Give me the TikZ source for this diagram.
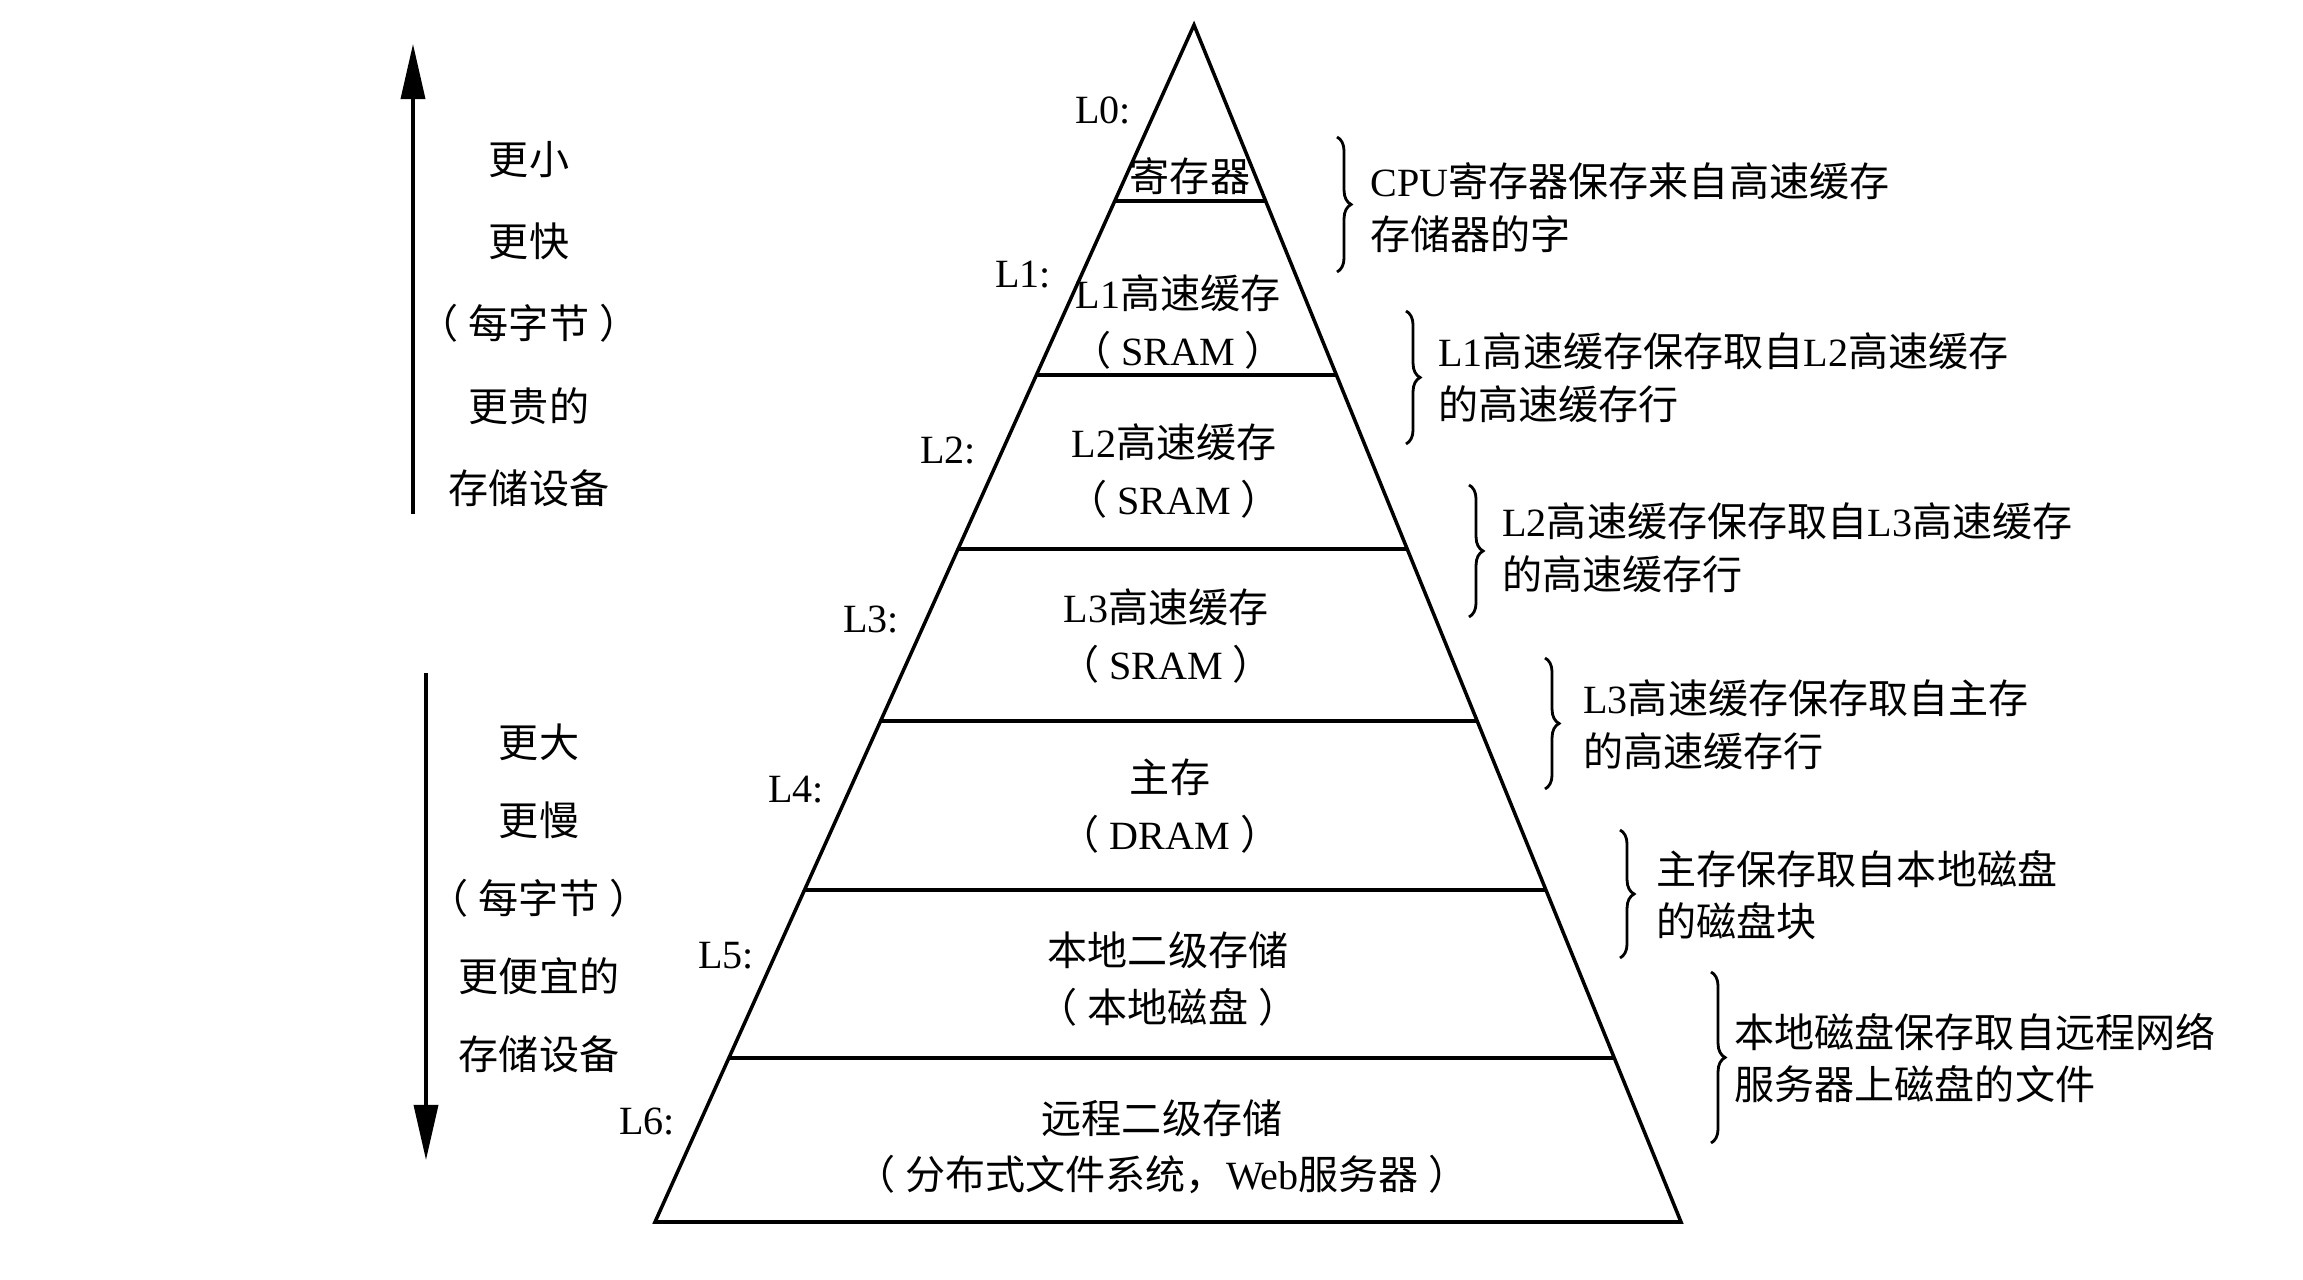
\documentclass[tikz,border=0pt]{standalone}
\usepackage{fontspec}
\setmainfont{Liberation Serif}
\newfontfamily\cjk{Noto Sans CJK SC}
\newcommand{\zh}[1]{{\cjk #1}}
\newcommand{\lp}{\zh{（}\hspace{0.25em}}
\newcommand{\rp}{\hspace{0.25em}\zh{）}}
\usetikzlibrary{arrows.meta,decorations.pathreplacing,calc,positioning}

\begin{document}
\begin{tikzpicture}[x=0.01cm, y=-0.01cm]
    \tikzset{edge/.style={line width=1pt, line join=miter}}
    \tikzset{lvl/.style={align=center, font=\fontsize{11.4}{16}\selectfont}}
    \tikzset{tag/.style={anchor=east, inner sep=1pt, font=\fontsize{11.4}{13}\selectfont}}
    \tikzset{note/.style={anchor=west, align=left, font=\fontsize{11.4}{15}\selectfont}}
    \tikzset{curly/.style={decorate, decoration={brace, amplitude=4pt}, line width=0.8pt}}
    \tikzset{bigarrow/.style={line width=1pt, -{Triangle[length=5.5mm, width=2.4mm]}}}
    \useasboundingbox (0,0) rectangle (2303,1280);

    % Pyramid
    \coordinate (apex) at (1194,25);
    \coordinate (bl) at (655,1222);
    \coordinate (br) at (1681,1222);
    \draw[edge] (bl) -- (apex) -- (br) -- cycle;
    \foreach \t [count=\i] in {0.1470,0.2924,0.4378,0.5815,0.7226,0.8630}
        \draw[edge] ($(apex)!\t!(bl)$) coordinate (sl\i) -- ($(apex)!\t!(br)$) coordinate (sr\i);

    % Levels
    \node[lvl] (reg) at (1190,176) {\zh{寄存器}};
    \node[lvl] (l1c) at (1178,322) {L1\zh{高速缓存}\\\lp SRAM\rp};
    \node[lvl] (l2c) at (1174,471) {L2\zh{高速缓存}\\\lp SRAM\rp};
    \node[lvl] (l3c) at (1166,636) {L3\zh{高速缓存}\\\lp SRAM\rp};
    \node[lvl] (mem) at (1170,806) {\zh{主存}\\\lp DRAM\rp};
    \node[lvl] (disk) at (1168,979) {\zh{本地二级存储}\\\lp\zh{本地磁盘}\rp};
    \node[lvl] (remote) at (1162,1147) {\zh{远程二级存储}\\\lp\zh{分布式文件系统，}Web\zh{服务器}\rp};

    % Level tags
    \node[tag] (t0) at (1135,110) {L0:};
    \node[tag] (t1) at (1055,275) {L1:};
    \node[tag] (t2) at (980,451) {L2:};
    \node[tag] (t3) at (903,620) {L3:};
    \node[tag] (t4) at (828,790) {L4:};
    \node[tag] (t5) at (758,956) {L5:};
    \node[tag] (t6) at (679,1122) {L6:};

    % Braces
    \coordinate (b1a) at (1337,137);  \coordinate (b1b) at (1337,272);
    \coordinate (b2a) at (1406,311);  \coordinate (b2b) at (1406,444);
    \coordinate (b3a) at (1469,485);  \coordinate (b3b) at (1469,617);
    \coordinate (b4a) at (1545,658);  \coordinate (b4b) at (1545,789);
    \coordinate (b5a) at (1620,830);  \coordinate (b5b) at (1620,958);
    \coordinate (b6a) at (1711,972);  \coordinate (b6b) at (1711,1143);
    \foreach \i in {1,...,6}
        \draw[curly] (b\i a) -- (b\i b);

    % Notes
    \node[note] (n1) at (1358,208) {CPU\zh{寄存器保存来自高速缓存}\\\zh{存储器的字}};
    \node[note] (n2) at (1426,378) {L1\zh{高速缓存保存取自}L2\zh{高速缓存}\\\zh{的高速缓存行}};
    \node[note] (n3) at (1490,548) {L2\zh{高速缓存保存取自}L3\zh{高速缓存}\\\zh{的高速缓存行}};
    \node[note] (n4) at (1571,725) {L3\zh{高速缓存保存取自主存}\\\zh{的高速缓存行}};
    \node[note] (n5) at (1644,895) {\zh{主存保存取自本地磁盘}\\\zh{的磁盘块}};
    \node[note] (n6) at (1722,1058) {\zh{本地磁盘保存取自远程网络}\\\zh{服务器上磁盘的文件}};

    % Left side
    \coordinate (upfrom) at (413,514);
    \coordinate (upto) at (413,44);
    \draw[bigarrow] (upfrom) -- (upto);
    \node[lvl, font=\fontsize{11.4}{23.4}\selectfont] (small) at (529,324)
        {\zh{更小}\\\zh{更快}\\\lp\zh{每字节}\rp\\\zh{更贵的}\\\zh{存储设备}};
    \coordinate (downfrom) at (426,673);
    \coordinate (downto) at (426,1160);
    \draw[bigarrow] (downfrom) -- (downto);
    \node[lvl, font=\fontsize{11.4}{22.2}\selectfont] (large) at (539,898)
        {\zh{更大}\\\zh{更慢}\\\lp\zh{每字节}\rp\\\zh{更便宜的}\\\zh{存储设备}};
\end{tikzpicture}
\end{document}
